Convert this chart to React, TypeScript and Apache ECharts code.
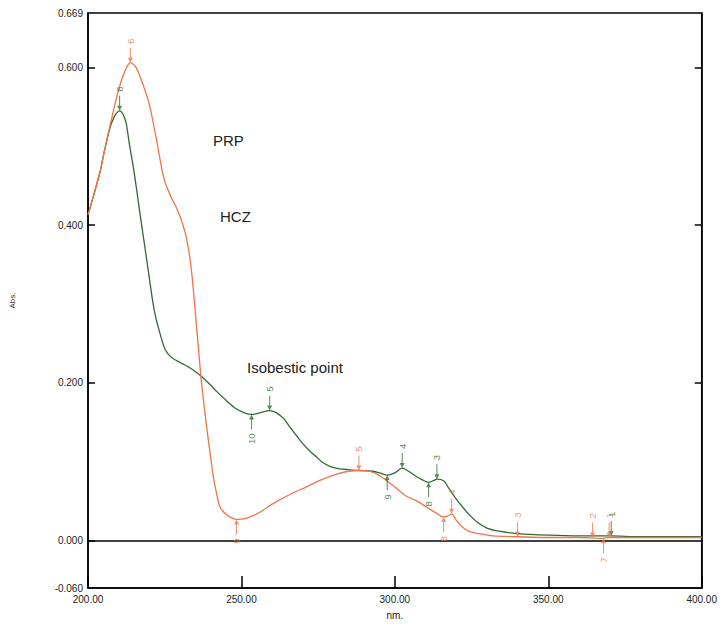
import React, { useEffect, useRef } from "react";
import * as echarts from "echarts";

// PRP spectrum (orange)
const prpWavelength = [200, 202, 204, 206, 208, 210, 212, 213.8, 215.5, 217.2, 219.8, 222, 224.7, 226.9, 228.5, 230, 231.5, 232.5, 233.5, 234.4, 236, 237, 238.7, 240, 240.9, 242, 243, 244.5, 246.3, 248.4, 252, 256, 260.3, 265, 271, 276, 280.8, 285, 288.3, 292.7, 296, 298, 301, 303.5, 306.7, 309, 311, 313.5, 315.9, 317.2, 318.5, 320, 321.8, 324, 327.2, 332, 340, 350, 360, 367.5, 370, 380, 390, 400];
const prpAbs = [0.413, 0.44, 0.469, 0.506, 0.54, 0.572, 0.595, 0.606, 0.601, 0.586, 0.556, 0.515, 0.46, 0.437, 0.425, 0.411, 0.393, 0.375, 0.35, 0.315, 0.243, 0.2, 0.143, 0.105, 0.08, 0.058, 0.043, 0.035, 0.03, 0.027, 0.029, 0.036, 0.047, 0.057, 0.068, 0.077, 0.084, 0.088, 0.089, 0.087, 0.08, 0.074, 0.065, 0.057, 0.051, 0.046, 0.041, 0.035, 0.03, 0.031, 0.034, 0.026, 0.018, 0.012, 0.009, 0.006, 0.005, 0.004, 0.004, 0.003, 0.004, 0.004, 0.004, 0.004];

// HCZ spectrum (green)
const hczWavelength = [200, 202, 204, 205, 206, 207.2, 208.5, 209.5, 210.3, 211.5, 212.5, 213.4, 215, 217, 219, 221.5, 223.5, 225.2, 227, 229, 231.5, 234.4, 237, 240, 242, 245, 248, 251, 253.3, 256, 259.2, 261, 263.5, 266, 268, 270, 272.2, 274.5, 276.5, 279, 282, 285, 288.3, 292.7, 295, 297.5, 300, 302.4, 304.5, 306.7, 309, 311, 312.5, 313.7, 315.9, 317.5, 319.6, 322, 324, 327, 330, 334, 340, 350, 360, 370, 380, 390, 400];
const hczAbs = [0.413, 0.44, 0.469, 0.488, 0.505, 0.524, 0.537, 0.543, 0.545, 0.54, 0.528, 0.505, 0.468, 0.413, 0.36, 0.294, 0.262, 0.242, 0.233, 0.228, 0.223, 0.216, 0.208, 0.197, 0.189, 0.178, 0.168, 0.162, 0.16, 0.162, 0.165, 0.163, 0.156, 0.143, 0.133, 0.123, 0.114, 0.106, 0.099, 0.094, 0.091, 0.09, 0.089, 0.088, 0.086, 0.083, 0.086, 0.092, 0.088, 0.082, 0.077, 0.074, 0.076, 0.078, 0.076, 0.067, 0.055, 0.043, 0.034, 0.023, 0.016, 0.012, 0.009, 0.007, 0.006, 0.006, 0.005, 0.005, 0.005];

// Peak / valley pick markers
const prpPeakNm = [369.8, 364.4, 340, 318.5, 288.3, 213.8];
const prpPeakAbs = [0.004, 0.004, 0.005, 0.034, 0.089, 0.606];
const prpPeakLabels = ["1", "2", "3", "4", "5", "6"];
const prpValleyNm = [368, 315.9, 248.4];
const prpValleyAbs = [0.003, 0.03, 0.027];
const prpValleyLabels = ["7", "8", "9"];

const hczPeakNm = [370.5, 313.7, 302.4, 259.2, 210.3];
const hczPeakAbs = [0.006, 0.078, 0.092, 0.165, 0.545];
const hczPeakLabels = ["1", "3", "4", "5", "6"];
const hczValleyNm = [311, 297.5, 253.3];
const hczValleyAbs = [0.074, 0.083, 0.16];
const hczValleyLabels = ["8", "9", "10"];

const yLabelValues = [-0.06, 0, 0.2, 0.4, 0.6, 0.669];
const yTickValues = [0, 0.2, 0.4, 0.6];
const yRightTickValues = [0.2, 0.4, 0.6];
const Y_MIN = -0.06;
const Y_MAX = 0.669;

const ORANGE = "#f0744a";
const GREEN = "#2f6b31";
const FONT = "Liberation Sans, Arial, sans-serif";

const downArrow = "path://M2,0 L3,0 L3,10 L5,10 L2.5,15 L0,10 L2,10 Z";
const upArrow = "path://M2.5,0 L5,5 L3,5 L3,15 L2,15 L2,5 L0,5 Z";

function markerSeries(nm: number[], abs: number[], labels: string[], color: string, up: boolean) {
  return {
    type: "scatter",
    data: nm.map((x, i) => [x, abs[i], labels[i]]),
    symbol: up ? upArrow : downArrow,
    symbolSize: [5, 15],
    symbolOffset: [0, up ? 7.5 : -7.5],
    itemStyle: { color },
    label: {
      show: true,
      position: up ? "bottom" : "top",
      distance: 4,
      rotate: 90,
      align: up ? "right" : "left",
      verticalAlign: "middle",
      formatter: (p: any) => p.data[2],
      fontSize: 9.5,
      color,
      fontFamily: FONT,
    },
    z: 5,
    silent: true,
  };
}

export default function App() {
  const ref = useRef<HTMLDivElement>(null);
  useEffect(() => {
    document.body.style.margin = "0";
    const chart = echarts.init(ref.current!, null, { renderer: "svg" });
    chart.setOption({
      animation: false,
      backgroundColor: "#ffffff",
      grid: {
        left: 87,
        right: 15,
        top: 13,
        bottom: 33,
        show: true,
        borderColor: "#000",
        borderWidth: 1.5,
      },
      xAxis: {
        type: "value",
        min: 200,
        max: 400,
        interval: 50,
        axisLine: { show: true, onZero: false, lineStyle: { color: "#000", width: 1.5 } },
        axisTick: { show: true, inside: true, length: 12, lineStyle: { color: "#000", width: 1.5 } },
        axisLabel: {
          formatter: (v: number) => v.toFixed(2),
          fontSize: 10,
          color: "#222",
          fontFamily: FONT,
          margin: 6,
        },
        splitLine: { show: false },
        name: "nm.",
        nameLocation: "middle",
        nameGap: 22,
        nameTextStyle: { fontSize: 10, color: "#222", fontFamily: FONT },
      },
      yAxis: [
        {
          type: "value",
          min: Y_MIN,
          max: Y_MAX,
          axisLine: { show: true, onZero: false, lineStyle: { color: "#000", width: 1.5 } },
          axisTick: {
            show: true,
            inside: true,
            length: 7,
            customValues: yTickValues,
            lineStyle: { color: "#000", width: 1.5 },
          },
          axisLabel: {
            customValues: yLabelValues,
            formatter: (v: number) => v.toFixed(3),
            fontSize: 10,
            color: "#222",
            fontFamily: FONT,
            margin: 5,
          },
          splitLine: { show: false },
          name: "Abs.",
          nameLocation: "middle",
          nameGap: 72,
          nameTextStyle: { fontSize: 8, color: "#333", fontFamily: FONT },
        },
        {
          type: "value",
          position: "right",
          min: Y_MIN,
          max: Y_MAX,
          axisLine: { show: true, onZero: false, lineStyle: { color: "#000", width: 1.5 } },
          axisTick: {
            show: true,
            inside: true,
            length: 7,
            customValues: yRightTickValues,
            lineStyle: { color: "#000", width: 1.5 },
          },
          axisLabel: { show: false },
          splitLine: { show: false },
        },
      ],
      graphic: [
        { type: "text", left: 213, top: 133, style: { text: "PRP", fontSize: 15, fill: "#222", fontFamily: FONT } },
        { type: "text", left: 220, top: 209, style: { text: "HCZ", fontSize: 15, fill: "#222", fontFamily: FONT } },
        { type: "text", left: 247, top: 360, style: { text: "Isobestic point", fontSize: 15, fill: "#222", fontFamily: FONT } },
      ],
      series: [
        {
          type: "line",
          name: "HCZ",
          data: hczWavelength.map((x, i) => [x, hczAbs[i]]),
          showSymbol: false,
          smooth: 0.3,
          lineStyle: { color: GREEN, width: 1.3 },
          z: 3,
          markLine: {
            silent: true,
            symbol: "none",
            label: { show: false },
            lineStyle: { color: "#000", width: 1.5, type: "solid" },
            data: [{ yAxis: 0 }],
          },
        },
        {
          type: "line",
          name: "PRP",
          data: prpWavelength.map((x, i) => [x, prpAbs[i]]),
          showSymbol: false,
          smooth: 0.3,
          lineStyle: { color: ORANGE, width: 1.3 },
          z: 4,
        },
        markerSeries(hczPeakNm, hczPeakAbs, hczPeakLabels, GREEN, false),
        markerSeries(hczValleyNm, hczValleyAbs, hczValleyLabels, GREEN, true),
        markerSeries(prpPeakNm, prpPeakAbs, prpPeakLabels, ORANGE, false),
        markerSeries(prpValleyNm, prpValleyAbs, prpValleyLabels, ORANGE, true),
      ],
    });
    return () => chart.dispose();
  }, []);
  return <div ref={ref} style={{ width: 720, height: 625 }} />;
}
